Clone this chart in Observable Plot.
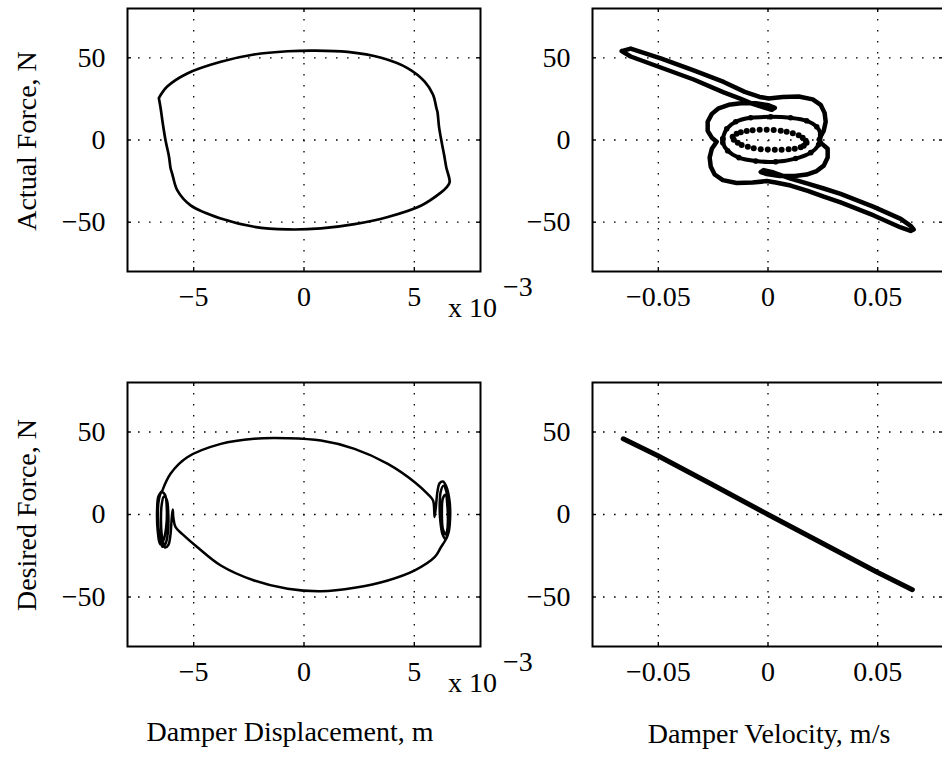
<!DOCTYPE html>
<html><head><meta charset="utf-8">
<script src="https://cdn.jsdelivr.net/npm/d3@7"></script>
<script src="https://cdn.jsdelivr.net/npm/@observablehq/plot@0.6"></script>
<style>
html,body{margin:0;padding:0;background:#fff;overflow:hidden}
#fig{position:relative;width:942px;height:759px;overflow:hidden;background:#fff}
#fig svg{position:absolute;overflow:visible}
</style></head><body><div id="fig"></div>
<script>
// ---- axes / ticks ----
const forceDomain = [-80, 80];
const forceTicks = [-50, 0, 50];
const dispDomain = [-8, 8];          // x 10^-3 m
const dispTicks = [-5, 0, 5];
const velDomain = [-0.08, 0.08];     // m/s
const velTicks = [-0.05, 0, 0.05];

// ---- top-left: actual force vs displacement (x in 10^-3 m) ----
const tlDisp = [-6.58,-6.2,-5.29,-3.77,-2.27,-0.74,0.47,1.98,3.5,4.71,5.47,5.85,6.0,6.05,6.12,6.23,6.35,6.45,6.6,6.45,6.23,5.32,3.8,2.29,0.77,-0.74,-2.26,-3.77,-5.14,-5.74,-5.97,-6.05,-6.12,-6.27,-6.4,-6.5,-6.58];
const tlForce = [25.5,32.5,40.5,47.6,52,54,54.4,53.6,50,43.6,35.5,27.5,19.5,17,8,-0.6,-9,-16.7,-25.7,-29,-31.7,-39.8,-46.8,-51.2,-53.8,-54.4,-52.8,-47.8,-39.8,-30.7,-20.7,-17,-10,-0.6,10,19.5,25.5];

// ---- bottom-left: desired force vs displacement (x in 10^-3 m) ----
const blDisp = [-6.42,-6.05,-5.29,-3.77,-2.26,-0.74,0.77,2.29,3.8,5.02,
  5.6,5.85,5.9,5.92,5.98,6.05,6.15,6.3,6.45,6.6,
  6.62,6.55,6.42,6.28,6.18,6.15,6.2,6.32,6.47,6.55,
  6.52,6.42,6.3,6.25,6.3,6.42,6.5,6.52,6.48,6.45,
  6.2,5.92,5.02,3.8,2.29,0.77,-0.74,-2.26,-3.77,-4.83,
  -5.5,-5.82,-5.92,-5.95,-6.0,-6.05,-6.15,-6.3,-6.42,-6.48,
  -6.45,-6.35,-6.22,-6.15,-6.17,-6.27,-6.42,-6.55,-6.62,-6.58,
  -6.45,-6.3,-6.22,-6.25,-6.38,-6.52,-6.63,-6.66,-6.6,-6.42];
const blForce = [14.5,24.7,34.7,42.8,45.9,46.2,44.8,39.8,30.7,19.6,
  12.5,8.5,3,-1.5,5,14,19,20,17,8,
  -3,-11,-15,-12,-4,6,14,17.5,13,3,
  -7,-12,-9,0,10,12,5,-5,-12,-14.5,
  -20,-25.9,-33.9,-40,-44.4,-46.5,-45,-40,-30.9,-19.8,
  -12,-7.7,-2,3,-3,-12,-18.5,-20,-15,-5,
  6,11,9,0,-11,-17.5,-19.5,-13,-2,9,
  13.5,12,4,-8,-16,-18,-10,2,11,14.5];

// ---- top-right: actual force vs velocity ----
const trOuterVel = [-0.0667,-0.0626,-0.0489,-0.0339,-0.0202,-0.0124,-0.0070,-0.0020,0.0017,0.0031,
  0.0003,-0.0056,-0.0124,-0.0179,-0.0225,-0.0256,-0.0275,-0.0275,-0.0256,-0.0234,
  -0.0256,-0.0266,-0.0261,-0.0243,-0.0206,-0.0143,-0.0070,-0.0006,0.0035,0.0103,
  0.0181,0.0254,0.0331,0.0482,0.0605,0.0650,0.0664,0.0650,0.0605,0.0482,
  0.0331,0.0254,0.0181,0.0103,0.0026,-0.0020,-0.0033,-0.0006,0.0053,0.0122,
  0.0176,0.0222,0.0254,0.0272,0.0272,0.0245,0.0231,0.0254,0.0263,0.0258,
  0.0240,0.0204,0.0140,0.0067,0.0003,-0.0038,-0.0106,-0.0202,-0.0339,-0.0489,
  -0.0626,-0.0667];
const trOuterForce = [54.1,50.8,44.1,36.8,29.0,25.0,22.0,19.9,18.4,19.6,
  21.1,22.3,22.3,21.4,19.3,15.9,11.1,5.6,1.4,-1.0,
  -5.3,-10.7,-16.2,-21.0,-24.4,-26.2,-25.9,-25.0,-25.9,-27.7,
  -31.0,-34.4,-38.0,-45.9,-53.2,-55.3,-54.4,-52.2,-48.0,-40.7,
  -32.8,-29.5,-26.5,-23.5,-19.8,-18.3,-19.5,-20.7,-21.9,-21.9,
  -21.0,-18.9,-15.6,-10.7,-5.3,-2.2,0.2,5.6,11.1,16.5,
  21.4,24.7,26.5,26.2,25.3,26.2,29.3,35.3,42.3,49.6,
  55.6,54.1];
const trMidVel = [-0.0206,-0.0188,-0.0147,-0.0079,0.0012,0.0103,0.0176,0.0222,0.0240,0.0231,0.0195,0.0126,0.0035,-0.0056,-0.0133,-0.0184,-0.0206,-0.0206];
const trMidForce = [0.8,6.8,11.1,13.5,14.1,13.5,11.7,8.1,3.2,-2.8,-7.7,-11.3,-13.2,-12.8,-10.7,-6.5,-1.6,0.8];
const trInVel = [-0.0161,-0.0143,-0.0124,-0.0097,-0.0070,-0.0038,-0.0006,0.0026,0.0058,0.0085,
  0.0113,0.0140,0.0158,0.0172,0.0176,0.0163,0.0149,0.0122,0.0094,0.0062,
  0.0031,-0.0001,-0.0033,-0.0065,-0.0092,-0.0120,-0.0138,-0.0156];
const trInForce = [2.0,3.8,4.7,5.5,5.9,6.2,6.2,6.1,5.6,5.0,
  4.1,2.9,1.4,-0.4,-1.6,-3.5,-4.4,-5.3,-5.6,-5.9,
  -5.9,-5.8,-5.6,-5.0,-4.1,-3.0,-1.6,0.2];

// ---- bottom-right: desired force vs velocity ----
const brVel = [-0.066,-0.0504,-0.0261,0,0.0498,0.0658];
const brForce = [45.9,35.8,18.6,0,-35.0,-45.6];

// ---- helpers ----
const zip = (xs, ys) => xs.map((x, i) => ({x, y: ys[i]}));
const fmtInt = d3.format("d");
const fmtVel = d => d === 0 ? "0" : d3.format(".2f")(d);
const FONT = "'Liberation Serif','Times New Roman',serif";
const FS = 28;
const fig = document.getElementById("fig");

function panel({left, top, width, height, mL, mR, mT, mB, xDomain, xTicks, xFmt, curveMarks}) {
  const iw = width - mL - mR, ih = height - mT - mB;
  const dotted = {stroke: "#000", strokeWidth: 1.3, strokeDasharray: "1.6,9.4"};
  const tick = {stroke: "#000", strokeWidth: 1.4};
  const svg = Plot.plot({
    width, height, marginLeft: mL, marginRight: mR, marginTop: mT, marginBottom: mB,
    x: {domain: xDomain}, y: {domain: forceDomain},
    style: {fontFamily: FONT, fontSize: FS + "px", color: "#000", background: "none", overflow: "visible"},
    marks: [
      Plot.ruleX(xTicks, dotted),
      Plot.ruleY(forceTicks, dotted),
      Plot.ruleX(xTicks, {...tick, insetTop: ih - 4}),
      Plot.ruleX(xTicks, {...tick, insetBottom: ih - 4}),
      Plot.ruleY(forceTicks, {...tick, insetRight: iw - 4}),
      Plot.ruleY(forceTicks, {...tick, insetLeft: iw - 4}),
      ...curveMarks,
      Plot.frame({stroke: "#000", strokeWidth: 2}),
      Plot.axisX(xTicks, {anchor: "bottom", tickSize: 0, tickPadding: 15, tickFormat: xFmt, label: null, fontSize: FS, fontFamily: FONT}),
      Plot.axisY(forceTicks, {anchor: "left", tickSize: 0, tickPadding: 22, tickFormat: fmtInt, label: null, fontSize: FS, fontFamily: FONT})
    ]
  });
  svg.style.left = left + "px";
  svg.style.top = top + "px";
  fig.appendChild(svg);
}

const lineOpt = (w, curve) => ({x: "x", y: "y", stroke: "#000", strokeWidth: w, strokeLinejoin: "round", strokeLinecap: "round", curve});

// top-left
panel({left: 0, top: 0, width: 490, height: 330, mL: 127, mR: 10, mT: 8, mB: 59,
  xDomain: dispDomain, xTicks: dispTicks, xFmt: fmtInt,
  curveMarks: [Plot.line(zip(tlDisp, tlForce), lineOpt(2.7, "catmull-rom"))]});
// top-right
panel({left: 490, top: 0, width: 453, height: 330, mL: 102, mR: 0, mT: 8, mB: 59,
  xDomain: velDomain, xTicks: velTicks, xFmt: fmtVel,
  curveMarks: [
    Plot.line(zip(trOuterVel, trOuterForce), lineOpt(4.5, "linear")),
    Plot.line(zip(trMidVel, trMidForce), lineOpt(4, "catmull-rom")),
    Plot.dot(zip(trMidVel, trMidForce), {x: "x", y: "y", r: 2.8, fill: "#000"}),
    Plot.dot(zip(trInVel, trInForce), {x: "x", y: "y", r: 3, fill: "#000"})
  ]});
// bottom-left
panel({left: 0, top: 370, width: 490, height: 330, mL: 127, mR: 10, mT: 12, mB: 54,
  xDomain: dispDomain, xTicks: dispTicks, xFmt: fmtInt,
  curveMarks: [Plot.line(zip(blDisp, blForce), lineOpt(2.5, "catmull-rom"))]});
// bottom-right
panel({left: 490, top: 370, width: 453, height: 330, mL: 102, mR: 0, mT: 12, mB: 54,
  xDomain: velDomain, xTicks: velTicks, xFmt: fmtVel,
  curveMarks: [Plot.line(zip(brVel, brForce), lineOpt(5, "linear"))]});

// ---- labels ----
const NS = "http://www.w3.org/2000/svg";
const over = document.createElementNS(NS, "svg");
over.setAttribute("width", 942); over.setAttribute("height", 759);
over.style.left = "0px"; over.style.top = "0px";
over.setAttribute("font-family", FONT); over.setAttribute("font-size", FS);
function txt(s, x, y, anchor, rot) {
  const t = document.createElementNS(NS, "text");
  t.textContent = s;
  t.setAttribute("text-anchor", anchor);
  t.setAttribute("transform", `translate(${x},${y})` + (rot ? ` rotate(${rot})` : ""));
  over.appendChild(t);
}
txt("Actual Force, N", 36, 141, "middle", -90);
txt("Desired Force, N", 36, 515, "middle", -90);
txt("Damper Displacement, m", 290, 741, "middle");
txt("Damper Velocity, m/s", 769, 743, "middle");
txt("x 10", 448, 317, "start");
txt("\u22123", 503, 296, "start");
txt("x 10", 448, 692, "start");
txt("\u22123", 503, 671, "start");
fig.appendChild(over);
</script></body></html>
